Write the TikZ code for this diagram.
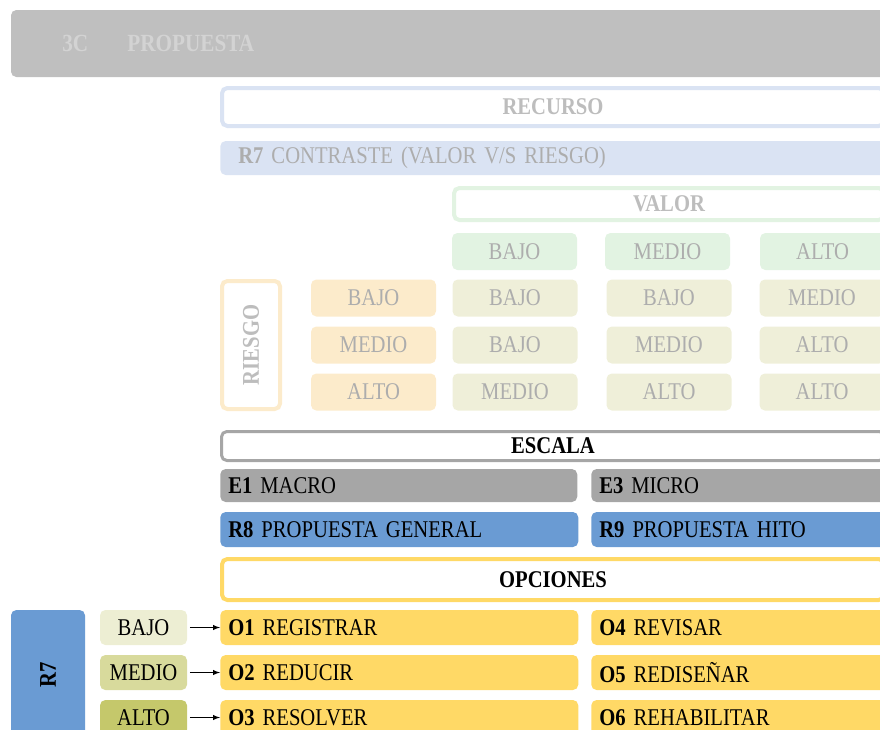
\documentclass[tikz,border=0pt]{standalone}
\usepackage{fontspec}
\setmainfont{Liberation Serif}[FakeStretch=0.86]
\usepackage{xcolor}
\usetikzlibrary{shapes, arrows, positioning, calc}

\definecolor{bannergray}{HTML}{BFBFBF}
\definecolor{bannertext}{HTML}{D3D3D3}
\definecolor{fadetext}{HTML}{ADADAD}
\definecolor{headtext}{HTML}{BDBDBD}
\definecolor{recblue}{HTML}{DAE3F3}
\definecolor{valgreen}{HTML}{E2F3E2}
\definecolor{riskorange}{HTML}{FCEBCB}
\definecolor{mixolive}{HTML}{EFEFD9}
\definecolor{scalegray}{HTML}{A6A6A6}
\definecolor{propblue}{HTML}{6A9BD3}
\definecolor{optyellow}{HTML}{FFD966}
\definecolor{lowolive}{HTML}{EDEED3}
\definecolor{midolive}{HTML}{D8DA9C}
\definecolor{highyolive}{HTML}{C5C86B}

\newcommand{\cellfont}{\fontsize{18}{20}\selectfont}
\newcommand{\headfont}{\fontsize{18.5}{20}\selectfont}

\begin{document}
\begin{tikzpicture}[x=0.75pt, y=-0.75pt, >=latex,
  wd/.style={minimum width=#1*0.75pt},
  ht/.style={minimum height=#1*0.75pt},
  cell/.style={rectangle, rounded corners=4pt, inner sep=0pt, align=center, font=\cellfont},
  bar/.style={rectangle, rounded corners=4pt, anchor=west, inner xsep=6pt, inner ysep=0pt, align=left, text width=#1*0.75pt-12pt, minimum width=#1*0.75pt, font=\cellfont},
  frame/.style={cell, fill=white, line width=3pt, font=\cellfont\bfseries}]

\useasboundingbox (0,0) rectangle (880,729);
\clip (0,0) rectangle (880,729);

% cabecera
\node[cell, fill=bannergray, wd=889, ht=67] (banner) at (455.5,43.5) {};
\node[anchor=west, inner sep=0pt, font=\headfont\bfseries, text=bannertext] (code) at (62,43.5) {3C};
\node[right=29pt of code, inner sep=0pt, font=\headfont\bfseries, text=bannertext] (title) {PROPUESTA};

% recurso
\node[frame, draw=recblue, text=headtext, wd=662, ht=38] (recurso) at (553,107) {RECURSO};
\node[bar=666, fill=recblue, ht=34, text=fadetext] (contraste) at (220,158) {\hspace*{7.5pt}\textbf{R7} CONTRASTE (VALOR V/S RIESGO)};

% valor
\node[frame, draw=valgreen, text=headtext, wd=430, ht=32] (valor) at (669,204) {VALOR};
\foreach \x/\t [count=\i] in {514.5/BAJO, 667.5/MEDIO, 822.5/ALTO}
  \node[cell, fill=valgreen, text=fadetext, wd=125, ht=37] (v\i) at (\x,251.5) {\t};

% riesgo
\node[frame, draw=riskorange, text=headtext, wd=128, ht=58, rotate=90] (riesgo) at (251,345) {RIESGO};
\foreach \y/\t [count=\i] in {298/BAJO, 345/MEDIO, 392/ALTO}
  \node[cell, fill=riskorange, text=fadetext, wd=125, ht=37] (r\i) at (373.5,\y) {\t};

% matriz valor / riesgo
\foreach \y/\a/\b/\c [count=\i] in {298/BAJO/BAJO/MEDIO, 345/BAJO/MEDIO/ALTO, 392/MEDIO/ALTO/ALTO} {
  \node[cell, fill=mixolive, text=fadetext, wd=125, ht=37] (m\i a) at (515,\y) {\a};
  \node[cell, fill=mixolive, text=fadetext, wd=125, ht=37] (m\i b) at (669,\y) {\b};
  \node[cell, fill=mixolive, text=fadetext, wd=125, ht=37] (m\i c) at (822,\y) {\c};
}

% escala
\node[frame, draw=scalegray, line width=2.25pt, wd=663, ht=29] (escala) at (553,446) {ESCALA};
\node[bar=357, fill=scalegray, ht=33] (e1) at (220,485.5) {\textbf{E1} MACRO};
\node[bar=295, fill=scalegray, ht=33] (e3) at (591,485.5) {\textbf{E3} MICRO};
\node[bar=358, fill=propblue, ht=35] (r8) at (220,529.5) {\textbf{R8} PROPUESTA GENERAL};
\node[bar=295, fill=propblue, ht=35] (r9) at (591,529.5) {\textbf{R9} PROPUESTA HITO};

% opciones
\node[frame, draw=optyellow, wd=662, ht=41] (opciones) at (553,579.5) {OPCIONES};
\foreach \y/\a/\b/\c/\d [count=\i] in {627.5/O1/REGISTRAR/O4/REVISAR, 672.5/O2/REDUCIR/O5/REDISEÑAR, 717.5/O3/RESOLVER/O6/REHABILITAR} {
  \node[bar=358, fill=optyellow, ht=35] (o\i) at (220,\y) {\textbf{\a} \b};
  \node[bar=295, fill=optyellow, ht=35] (p\i) at (591,\y) {\textbf{\c} \d};
}

% nivel R7 -> opcion
\node[cell, fill=propblue, wd=130, ht=74, rotate=90, font=\cellfont\bfseries] (r7) at (48,675) {R7};
\foreach \y/\t/\c [count=\i] in {627.5/BAJO/lowolive, 672.5/MEDIO/midolive, 717.5/ALTO/highyolive} {
  \node[cell, fill=\c, wd=87, ht=35] (n\i) at (143.5,\y) {\t};
  \draw[->, line width=0.8pt, shorten <=2pt] (n\i) -- (o\i);
}

\end{tikzpicture}
\end{document}
